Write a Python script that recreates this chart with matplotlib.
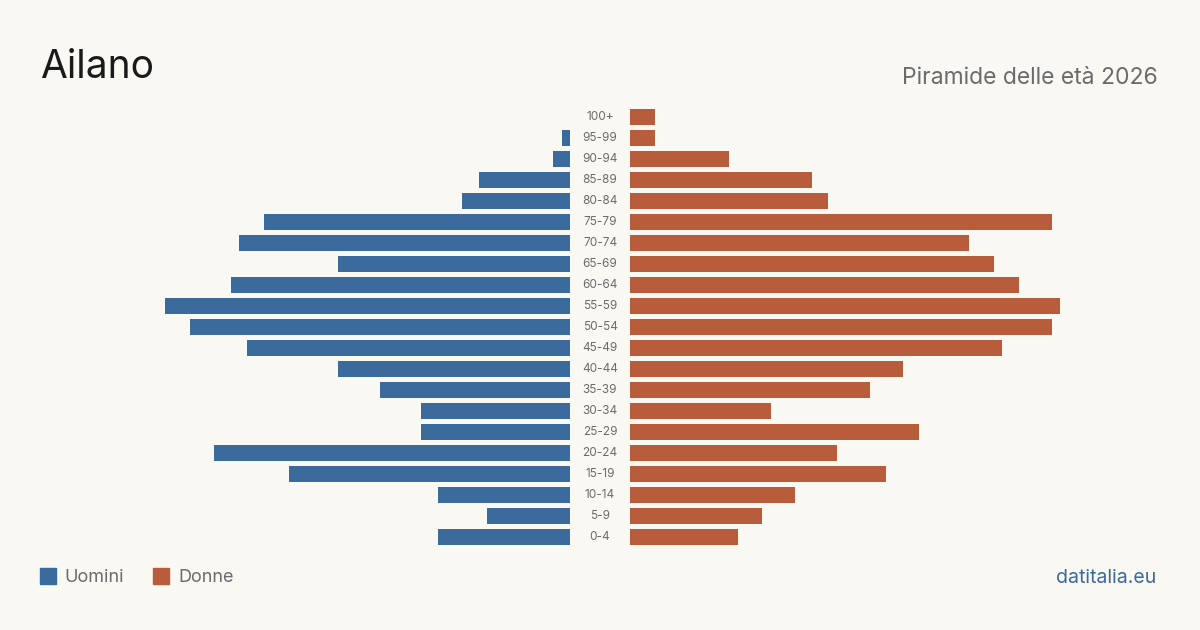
import numpy as np
import matplotlib
matplotlib.use("Agg")
import matplotlib.pyplot as plt
from matplotlib.patches import Rectangle

plt.rcParams['font.family'] = ['Inter', 'DejaVu Sans']

# dati: classi di età dal basso verso l'alto
eta = ["0-4", "5-9", "10-14", "15-19", "20-24", "25-29", "30-34", "35-39",
       "40-44", "45-49", "50-54", "55-59", "60-64", "65-69", "70-74", "75-79",
       "80-84", "85-89", "90-94", "95-99", "100+"]
uomini = [16, 10, 16, 34, 43, 18, 18, 23, 28, 39, 46, 49, 41, 28, 40, 37,
          13, 11, 2, 1, 0]
donne = [13, 16, 20, 31, 25, 35, 17, 29, 33, 45, 51, 52, 47, 44, 41, 51,
         24, 22, 12, 3, 3]

BG = "#f9f8f3"
BLU = "#3a6b9c"
ROSSO = "#b95c3c"
GRIGIO = "#6b6b6b"

W, H = 1200, 630
XMAX = 60
px_unit = 8.27

fig = plt.figure(figsize=(W / 100, H / 100), dpi=100, facecolor=BG)

y_top, y_bot = 106.5, 547.5
ax_h = (y_bot - y_top) / H
ax_b = 1 - y_bot / H
ax_w = XMAX * px_unit / W

ax_l = fig.add_axes([570 / W - ax_w, ax_b, ax_w, ax_h])
ax_r = fig.add_axes([630 / W, ax_b, ax_w, ax_h])

y = np.arange(len(eta))
ax_l.barh(y, uomini, height=0.8, color=BLU)
ax_r.barh(y, donne, height=0.8, color=ROSSO)
ax_l.set_xlim(XMAX, 0)
ax_r.set_xlim(0, XMAX)
for ax in (ax_l, ax_r):
    ax.set_ylim(-0.5, len(eta) - 0.5)
    ax.set_facecolor("none")
    ax.axis("off")

# etichette al centro
for i, lab in enumerate(eta):
    ax_r.annotate(lab, xy=(0, i), xytext=(-30, 0), textcoords="offset pixels",
                  ha="center", va="center", fontsize=8.5, color=GRIGIO)

fig.text(40 / W, 1 - 68 / H, "Ailano", fontsize=28, color="#1a1a1a",
         ha="left", va="center")
fig.text(1158 / W, 1 - 78 / H, "Piramide delle età 2026", fontsize=16.5,
         color=GRIGIO, ha="right", va="center")

# legenda
for x0, col, txt, tx in [(40, BLU, "Uomini", 64), (153, ROSSO, "Donne", 178)]:
    fig.patches.append(Rectangle((x0 / W, 1 - 584 / H), 16 / W, 16 / H,
                                 transform=fig.transFigure, color=col))
    fig.text(tx / W, 1 - 578 / H, txt, fontsize=13, color=GRIGIO,
             ha="left", va="center")

fig.text(1156 / W, 1 - 578 / H, "datitalia.eu", fontsize=14, color=BLU,
         ha="right", va="center")

fig.savefig("out.png", dpi=100, facecolor=BG)
